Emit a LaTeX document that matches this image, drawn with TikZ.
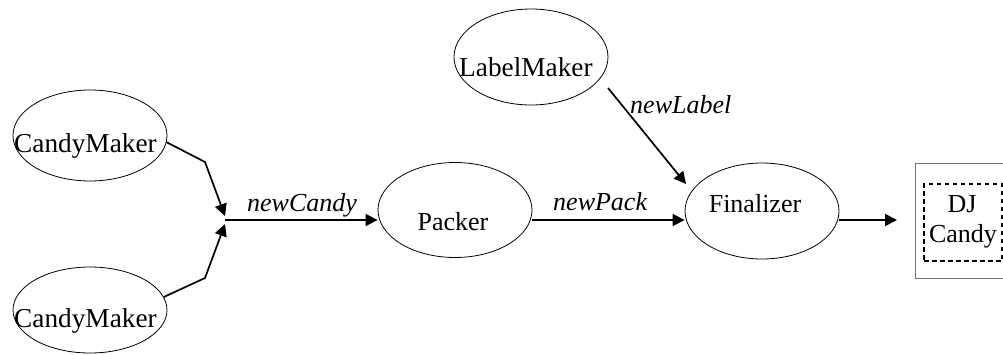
\documentclass[tikz,border=0pt]{standalone}
\usepackage{fontspec}
\setmainfont{Liberation Serif}
\usetikzlibrary{shapes.geometric,arrows.meta}
\begin{document}
\begin{tikzpicture}[x=1pt,y=-1pt,
  ell/.style={draw, ellipse, line width=0.8pt, inner sep=0pt, minimum width=154pt},
  txt/.style={inner sep=0pt, font=\fontsize{26}{30}\selectfont},
  wtxt/.style={inner sep=0pt, font=\fontsize{27.3}{30}\selectfont},
  lbl/.style={inner sep=0pt, font=\fontsize{26}{30}\selectfont\itshape, anchor=base west},
  flow/.style={line width=1.7pt, -{Triangle[length=12pt,width=12pt]}}]
\useasboundingbox (0,0) rectangle (1003,354);
\clip (0,0) rectangle (1003,354);
% ellipses
\node[ell, minimum height=91pt] (cm1) at (90,135.5) {};
\node[ell, minimum height=86pt] (cm2) at (90,310) {};
\node[ell, minimum height=95pt] (packer) at (455,210) {};
\node[ell, minimum height=96pt] (final) at (762,211) {};
\node[ell, minimum height=96pt] (labelm) at (531,57) {};
% texts
\node[wtxt, anchor=base west] (cm1t) at (14,152) {CandyMaker};
\node[wtxt, anchor=base west] (cm2t) at (14,327) {CandyMaker};
\node[txt, anchor=base] (packt) at (453,230) {Packer};
\node[txt, anchor=base] (fint) at (755,212) {Finalizer};
\node[wtxt, anchor=base west] (lmt) at (459,76) {LabelMaker};
% output box
\node[draw=black!55, line width=1.2pt, minimum width=100pt, minimum height=115pt, anchor=north west, inner sep=0pt] (djbox) at (915,163) {};
\node[draw, dash pattern=on 4.5pt off 3.5pt, line width=2pt, minimum width=78pt, minimum height=77pt, anchor=north west, inner sep=0pt] (djin) at (923,183) {};
\node[txt, anchor=base] (djt1) at (962,212) {DJ};
\node[txt, anchor=base] (djt2) at (963,242) {Candy};
% connectors
\coordinate (j) at (225,220);
\coordinate (j1) at (225,216);
\coordinate (j2) at (225,224);
\coordinate (b1) at (205,162);
\coordinate (b2) at (205,278);
\coordinate (lmstart) at (608,88);
\coordinate (lmend) at (686,184);
\coordinate (outend) at (897,220);
\draw[flow] (cm1.-5) -- (b1) -- (j1);
\draw[flow] (cm2.10) -- (b2) -- (j2);
\draw[flow] (j) -- (j -| packer.west);
\draw[flow] (packer.east |- j) -- (final.west |- j);
\draw[flow] (lmstart) -- (lmend);
\draw[flow] (final.east |- j) -- (outend);
% labels
\node[lbl] (lcandy) at (247,211) {newCandy};
\node[lbl] (lpack) at (553,210) {newPack};
\node[lbl] (llabel) at (630,113) {newLabel};
\end{tikzpicture}
\end{document}
